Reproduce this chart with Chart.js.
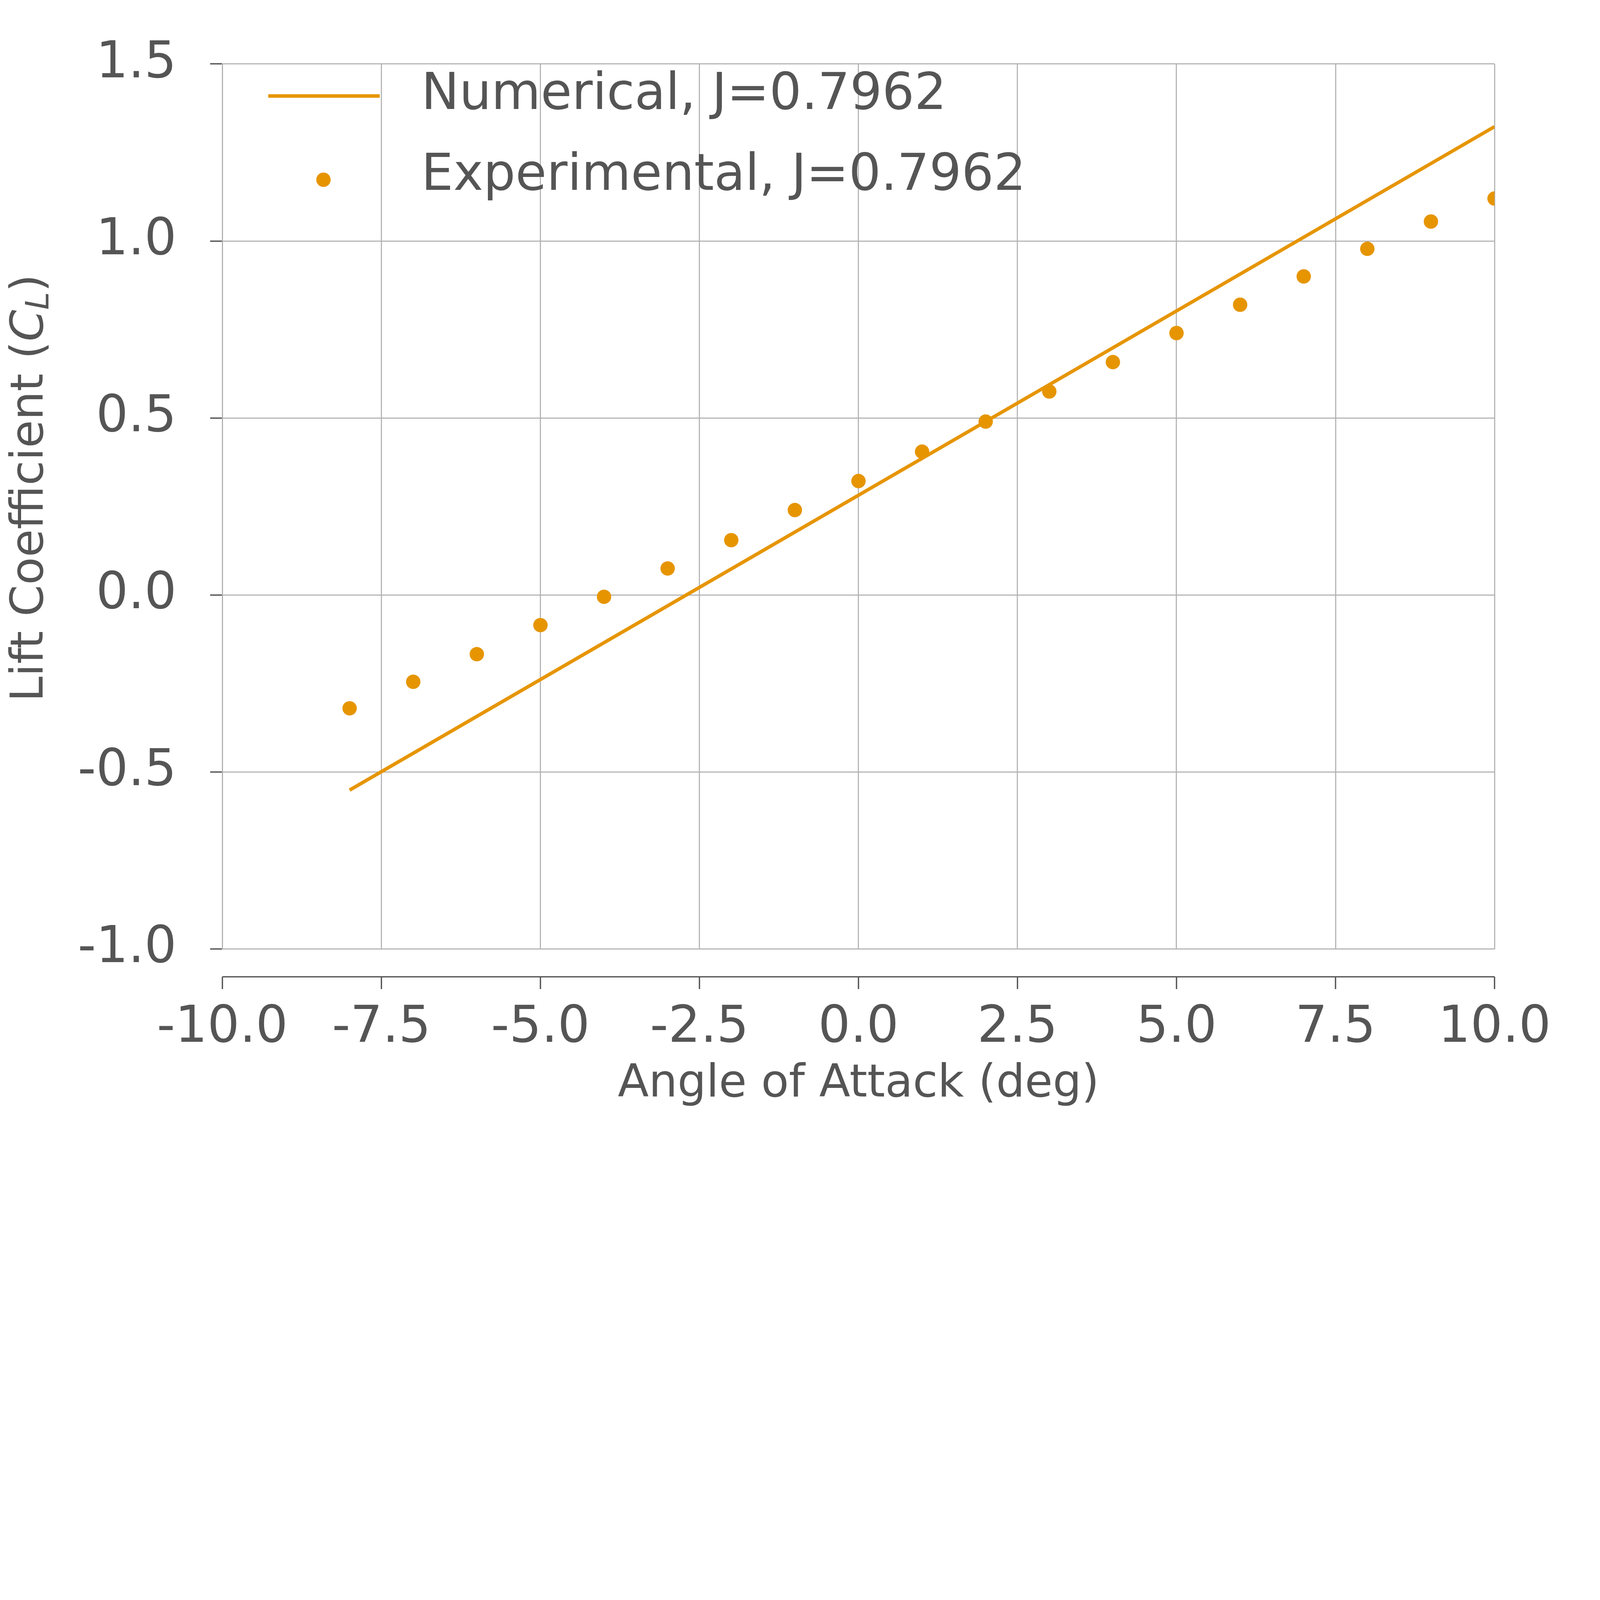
<!DOCTYPE html>
<html>
<head>
<meta charset="utf-8">
<script src="https://cdn.jsdelivr.net/npm/chart.js@4/dist/chart.umd.min.js"></script>
<style>
  html, body { margin: 0; padding: 0; background: #fff; overflow: hidden; }
  #wrap { width: 100vw; height: 100vh; position: relative; }
</style>
</head>
<body>
<div id="wrap"><canvas id="liftChart"></canvas></div>
<script>
const expAngles = [-8, -7, -6, -5, -4, -3, -2, -1, 0, 1, 2, 3, 4, 5, 6, 7, 8, 9, 10];
const expCL = [-0.32, -0.245, -0.167, -0.085, -0.005, 0.075, 0.155, 0.24, 0.322, 0.405, 0.49, 0.575, 0.658, 0.74, 0.82, 0.9, 0.978, 1.055, 1.12];
const numAngles = [-8, 10];
const numCL = [-0.551, 1.323];
const xTicks = [-10, -7.5, -5, -2.5, 0, 2.5, 5, 7.5, 10];
const yTicks = [-1.0, -0.5, 0.0, 0.5, 1.0, 1.5];

const orange = '#E69500';
const textCol = '#555555';
const gridCol = '#b0b0b0';
const font = 'DejaVu Sans';

// everything is laid out for 6000 px wide, scaled to the real window
const s = window.innerWidth / 6000;

const decor = {
  id: 'decor',
  afterDraw(chart) {
    const ctx = chart.ctx;
    const a = chart.chartArea;
    const xs = chart.scales.x;
    ctx.save();
    const yLine = a.bottom + 104 * s;
    ctx.strokeStyle = textCol;
    ctx.lineWidth = 5 * s;
    ctx.beginPath();
    ctx.moveTo(a.left, yLine);
    ctx.lineTo(a.right, yLine);
    xTicks.forEach(t => {
      const px = xs.getPixelForValue(t);
      ctx.moveTo(px, yLine);
      ctx.lineTo(px, yLine + 46 * s);
    });
    ctx.stroke();

    ctx.fillStyle = textCol;
    ctx.textAlign = 'center';
    ctx.textBaseline = 'middle';
    ctx.font = (170 * s) + 'px "' + font + '"';
    ctx.fillText('Angle of Attack (deg)', (a.left + a.right) / 2, 4068 * s);

    ctx.translate(115 * s, 1830 * s);
    ctx.rotate(-Math.PI / 2);
    ctx.textAlign = 'left';
    const parts = [
      { t: 'Lift Coefficient (', f: (170 * s) + 'px "' + font + '"', dy: 0 },
      { t: 'C', f: 'italic ' + (170 * s) + 'px "' + font + '"', dy: 0 },
      { t: 'L', f: 'italic ' + (120 * s) + 'px "' + font + '"', dy: 35 * s },
      { t: ')', f: (170 * s) + 'px "' + font + '"', dy: 0 }
    ];
    let total = 0;
    parts.forEach(p => { ctx.font = p.f; total += ctx.measureText(p.t).width; });
    let x0 = -total / 2;
    parts.forEach(p => {
      ctx.font = p.f;
      ctx.fillText(p.t, x0, p.dy);
      x0 += ctx.measureText(p.t).width;
    });
    ctx.rotate(Math.PI / 2);
    ctx.translate(-115 * s, -1830 * s);

    ctx.strokeStyle = orange;
    ctx.lineWidth = 13 * s;
    ctx.beginPath();
    ctx.moveTo(1006 * s, 360 * s);
    ctx.lineTo(1424 * s, 360 * s);
    ctx.stroke();
    ctx.fillStyle = orange;
    ctx.beginPath();
    ctx.arc(1213 * s, 674 * s, 27 * s, 0, Math.PI * 2);
    ctx.fill();
    ctx.fillStyle = textCol;
    ctx.font = (190 * s) + 'px "' + font + '"';
    ctx.textAlign = 'left';
    ctx.textBaseline = 'middle';
    ctx.fillText('Numerical, J=0.7962', 1580 * s, 360 * s);
    ctx.fillText('Experimental, J=0.7962', 1580 * s, 662 * s);
    ctx.restore();
  }
};

new Chart(document.getElementById('liftChart'), {
  type: 'scatter',
  data: {
    datasets: [
      {
        label: 'Numerical, J=0.7962',
        type: 'line',
        data: numAngles.map((x, i) => ({ x: x, y: numCL[i] })),
        borderColor: orange,
        borderWidth: 13 * s,
        pointRadius: 0,
        fill: false
      },
      {
        label: 'Experimental, J=0.7962',
        data: expAngles.map((x, i) => ({ x: x, y: expCL[i] })),
        backgroundColor: orange,
        borderColor: orange,
        pointRadius: 27 * s,
        pointBorderWidth: 0
      }
    ]
  },
  options: {
    responsive: true,
    maintainAspectRatio: false,
    animation: false,
    layout: { padding: { top: 103 * s, right: 252 * s, left: 0, bottom: 0 } },
    plugins: { legend: { display: false }, tooltip: { enabled: false } },
    scales: {
      x: {
        type: 'linear',
        min: -10, max: 10,
        afterBuildTicks: sc => { sc.ticks = xTicks.map(v => ({ value: v })); },
        afterFit: sc => { sc.height = window.innerHeight - 3559 * s; },
        grid: { color: gridCol, lineWidth: 4 * s, tickLength: 0 },
        border: { display: false },
        ticks: {
          padding: 184 * s,
          color: textCol,
          font: { family: font, size: 190 * s },
          maxRotation: 0,
          callback: v => v.toFixed(1)
        }
      },
      y: {
        min: -1, max: 1.5,
        afterBuildTicks: sc => { sc.ticks = yTicks.map(v => ({ value: v })); },
        afterFit: sc => { sc.width = 834 * s; },
        grid: { color: gridCol, lineWidth: 4 * s, tickLength: 46 * s, tickColor: textCol, tickWidth: 5 * s },
        border: { color: gridCol, width: 4 * s },
        ticks: {
          padding: 126 * s,
          color: textCol,
          font: { family: font, size: 190 * s },
          callback: v => v.toFixed(1)
        }
      }
    }
  },
  plugins: [decor]
});
</script>
</body>
</html>
